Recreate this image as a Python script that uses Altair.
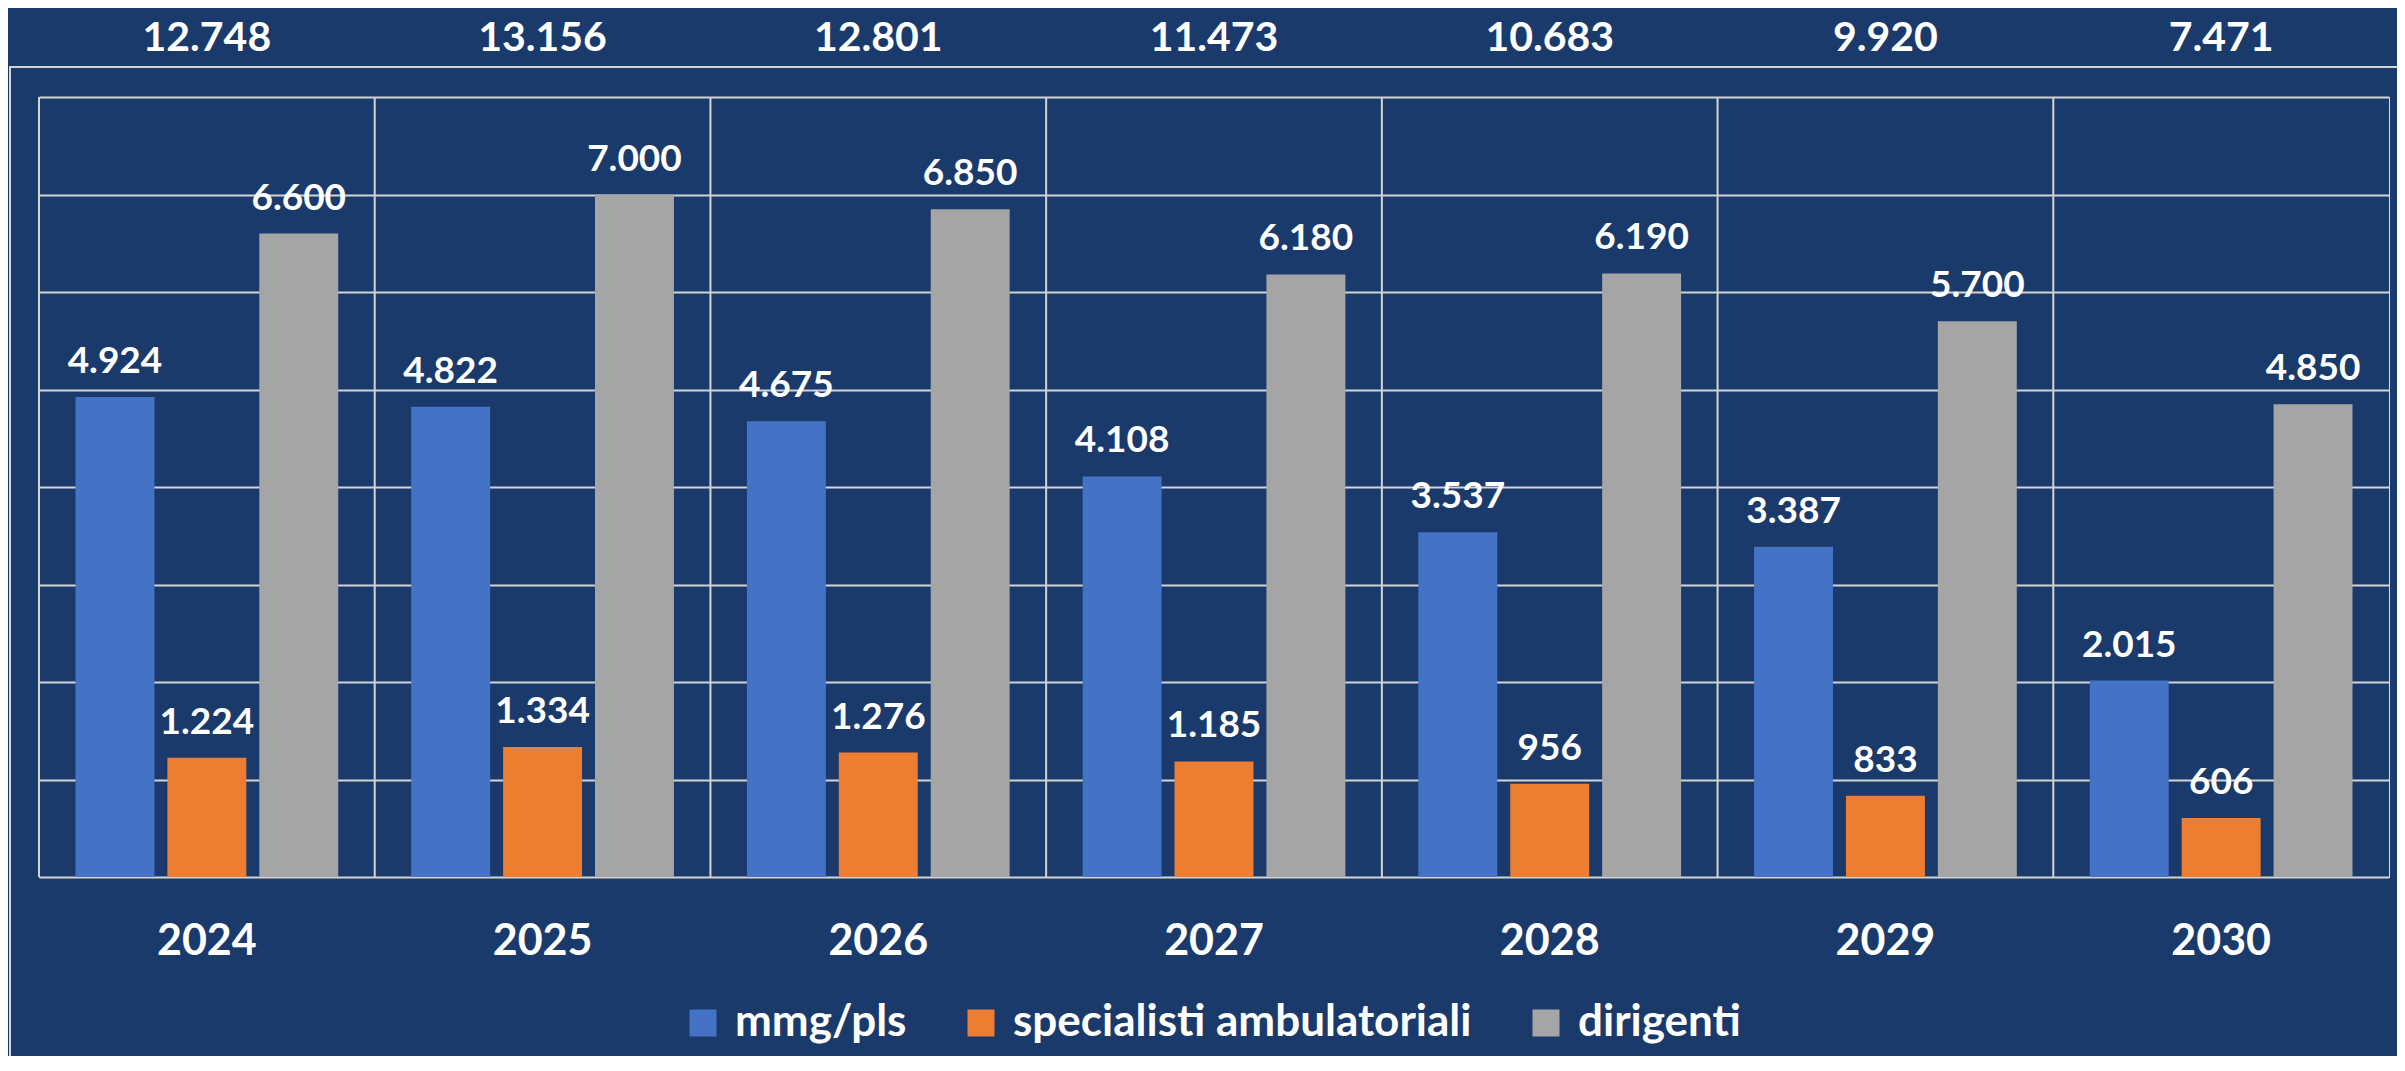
import altair as alt
import pandas as pd

years = ["2024", "2025", "2026", "2027", "2028", "2029", "2030"]
series = ["mmg/pls", "specialisti ambulatoriali", "dirigenti"]
mmg_pls = [4924, 4822, 4675, 4108, 3537, 3387, 2015]
specialisti = [1224, 1334, 1276, 1185, 956, 833, 606]
dirigenti = [6600, 7000, 6850, 6180, 6190, 5700, 4850]
colors = ["#4472C4", "#ED7D31", "#A5A5A5"]

rows = []
for i, y in enumerate(years):
    for s, vals in zip(series, [mmg_pls, specialisti, dirigenti]):
        rows.append({"year": y, "series": s, "value": vals[i]})
df = pd.DataFrame(rows)

BG = "#1A3A6C"
GRID = "#D4D4D4"
FONT = "Lato"
fmt = "replace(format(datum.value, ','), ',', '.')"

xscale = alt.Scale(paddingInner=0, paddingOuter=0)
xoff = alt.XOffset("series:N", sort=series,
                   scale=alt.Scale(paddingInner=0.141, paddingOuter=0.397))

base = alt.Chart(df)

frame = alt.Chart(alt.Data(values=[{"k": 1}])).mark_rect(
    fill=BG, fillOpacity=0, stroke=GRID, strokeWidth=2
).encode(
    x=alt.value(-29), x2=alt.value(2500), y=alt.value(-30), y2=alt.value(1200)
)

vlines = alt.Chart(pd.DataFrame({"year": years})).mark_rule(
    color=GRID, strokeWidth=2
).encode(
    x=alt.X("year:N", sort=years, bandPosition=0, scale=xscale)
)

bars = base.mark_bar().encode(
    x=alt.X("year:N", sort=years, scale=xscale,
            axis=alt.Axis(title=None, domain=False, ticks=False, tickSize=0,
                          grid=False, labelAngle=0, labelAlign="center",
                          labelFontSize=43,
                          labelFontWeight="bold", labelColor="white",
                          labelFont=FONT, labelBaseline="alphabetic",
                          labelPadding=77)),
    xOffset=xoff,
    y=alt.Y("value:Q",
            scale=alt.Scale(domain=[0, 8000], nice=False),
            axis=alt.Axis(title=None, labels=False, ticks=False, domain=False,
                          grid=True, gridColor=GRID, gridWidth=2,
                          values=[0, 1000, 2000, 3000, 4000, 5000, 6000, 7000, 8000])),
    color=alt.Color("series:N", sort=series,
                    scale=alt.Scale(domain=series, range=colors),
                    legend=alt.Legend(title=None, orient="none", direction="horizontal",
                                      legendX=642, legendY=904, padding=0,
                                      symbolType="square", symbolSize=729,
                                      symbolStrokeWidth=0, symbolOpacity=1,
                                      labelFontSize=44, labelFont=FONT,
                                      labelFontWeight="bold", labelColor="white",
                                      labelLimit=0, labelOffset=10,
                                      columnPadding=52)),
)

labels = base.mark_text(
    dy=-24, baseline="alphabetic", fontSize=37, fontWeight="bold",
    color="white", font=FONT
).transform_calculate(label=fmt).encode(
    x=alt.X("year:N", sort=years, scale=xscale),
    xOffset=xoff,
    y=alt.Y("value:Q"),
    text="label:N",
)

totals = base.transform_aggregate(
    value="sum(value)", groupby=["year"]
).transform_calculate(label=fmt).mark_text(
    dy=-46, baseline="alphabetic", fontSize=41, fontWeight="bold",
    color="white", font=FONT
).encode(
    x=alt.X("year:N", sort=years, scale=xscale),
    y=alt.value(0),
    text="label:N",
)

chart = alt.layer(frame, vlines, bars, labels, totals).properties(
    width=2350, height=780,
    background=BG,
    autosize=alt.AutoSizeParams(type="none"),
    padding={"left": 31, "top": 89, "right": 8, "bottom": 179},
).configure_view(stroke=GRID, strokeWidth=2).configure(font=FONT)

chart.save("out.html", embed_options={"renderer": "svg", "actions": False})
